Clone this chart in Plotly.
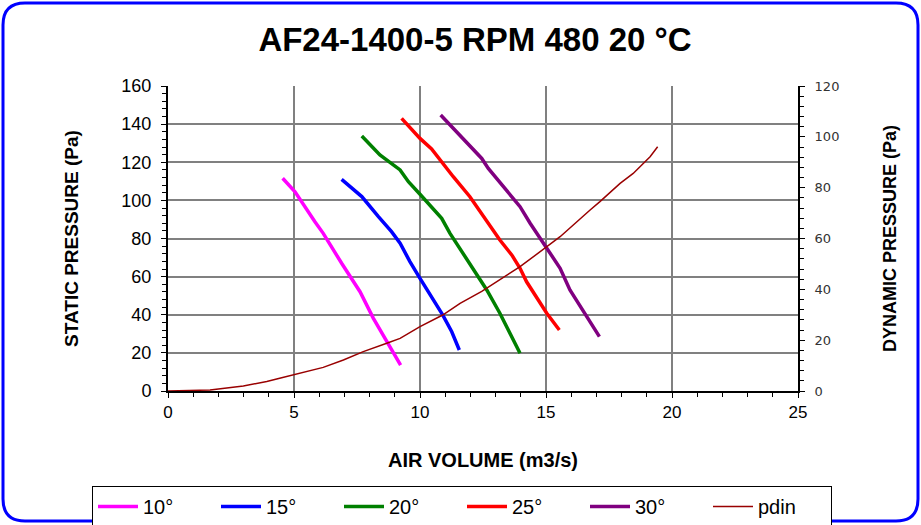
import plotly.graph_objects as go

# ---- data ----
x10 = [4.55, 5.04, 5.83, 6.16, 6.89, 7.62, 8.15, 8.74, 9.23]
y10 = [111.6, 104.5, 88.8, 82.7, 67.0, 52.1, 38.1, 25.0, 13.6]

x15 = [6.89, 7.69, 8.35, 8.87, 9.21, 9.60, 10.0, 10.46, 10.9, 11.26, 11.56]
y15 = [111.0, 102.0, 91.5, 83.6, 77.5, 67.9, 59.1, 49.5, 39.9, 31.1, 21.5]

x20 = [7.69, 8.41, 9.21, 9.54, 10.0, 10.86, 11.19, 11.98, 12.38, 12.65, 13.17, 13.97]
y20 = [133.8, 123.8, 116.0, 109.8, 103.2, 90.6, 82.7, 67.0, 59.1, 53.0, 40.8, 19.8]

x25 = [9.27, 10.0, 10.46, 10.86, 11.32, 11.98, 12.38, 13.17, 13.64, 13.97, 14.23, 15.03, 15.53]
y25 = [143.0, 132.5, 127.0, 120.0, 112.4, 101.9, 94.1, 79.2, 71.4, 64.4, 57.3, 40.8, 32.0]

x30 = [10.82, 11.59, 12.45, 12.71, 13.51, 13.97, 14.37, 14.96, 15.56, 15.95, 16.62, 17.12]
y30 = [144.8, 134.3, 122.0, 116.8, 103.7, 96.7, 88.0, 76.6, 64.4, 53.0, 39.0, 28.5]

xpd = [0.0, 1.0, 1.67, 2.99, 3.92, 4.51, 5.24, 6.16, 6.96, 7.75, 8.68, 9.21, 10.0, 10.9,
       11.59, 12.45, 13.97, 15.03, 15.56, 16.75, 17.14, 17.94, 18.46, 19.13, 19.43]
ypd = [0.0, 0.2, 0.4, 2.0, 3.7, 5.2, 7.0, 9.3, 12.2, 15.5, 18.8, 20.7, 25.3, 29.9,
       34.5, 39.2, 48.9, 56.8, 60.7, 71.2, 74.5, 81.7, 85.6, 92.2, 96.1]

names = ["10°", "15°", "20°", "25°", "30°"]
colors = ["#FF00FF", "#0000FF", "#008000", "#FF0000", "#800080"]
series_x = [x10, x15, x20, x25, x30]
series_y = [y10, y15, y20, y25, y30]

FONT = "Arial, Liberation Sans, sans-serif"

fig = go.Figure()
for nm, c, xs, ys in zip(names, colors, series_x, series_y):
    fig.add_trace(go.Scatter(x=xs, y=ys, mode="lines", name=nm,
                             line=dict(color=c, width=3.5)))
fig.add_trace(go.Scatter(x=xpd, y=ypd, mode="lines", name="pdin", yaxis="y2",
                         line=dict(color="#990000", width=1.5)))

W, H = 921, 525
ml, mr, mt, mb = 168, 123, 86, 134
pw, ph = W - ml - mr, H - mt - mb


def px(xp):
    return (xp - ml) / pw


def py(yp):
    return (H - mb - yp) / ph


# rounded blue frame around the whole chart
x0, x1, y0, y1 = px(3), px(918), py(3), py(521)
rx, ry = 22 / pw, 22 / ph
path = (f"M {x0+rx},{y0} L {x1-rx},{y0} Q {x1},{y0} {x1},{y0-ry} "
        f"L {x1},{y1+ry} Q {x1},{y1} {x1-rx},{y1} L {x0+rx},{y1} "
        f"Q {x0},{y1} {x0},{y1+ry} L {x0},{y0-ry} Q {x0},{y0} {x0+rx},{y0} Z")

fig.update_layout(
    width=W, height=H,
    margin=dict(l=ml, r=mr, t=mt, b=mb, autoexpand=False),
    paper_bgcolor="white", plot_bgcolor="white",
    font=dict(family=FONT, color="black"),
    title=dict(text="<b>AF24-1400-5 RPM 480 20 °C</b>", xref="container", x=475 / W,
               xanchor="center", y=1 - 39 / H, yanchor="middle",
               font=dict(size=33, family=FONT)),
    shapes=[dict(type="path", path=path, xref="paper", yref="paper",
                 line=dict(color="#0000FF", width=3), layer="above")],
    xaxis=dict(range=[0, 25], dtick=5, showgrid=True, gridcolor="#808080", gridwidth=2,
               showline=True, linecolor="black", linewidth=2, ticks="outside",
               ticklen=5, tickcolor="black", zeroline=False, automargin=False,
               minor=dict(dtick=1, ticks="outside", ticklen=4, tickcolor="black", showgrid=False),
               tickfont=dict(size=17, family=FONT),
               title=dict(text="<b>AIR VOLUME (m3/s)</b>", font=dict(size=20, family=FONT),
                          standoff=32)),
    yaxis=dict(range=[0, 160], dtick=20, showgrid=True, gridcolor="#808080", gridwidth=2,
               showline=True, linecolor="black", linewidth=2, ticks="outside",
               ticklen=5, tickcolor="black", zeroline=False, automargin=False,
               ticklabelstandoff=6,
               minor=dict(dtick=4, ticks="outside", ticklen=4, tickcolor="black", showgrid=False),
               tickfont=dict(size=18, family=FONT),
               title=dict(text="<b>STATIC PRESSURE (Pa)</b>", font=dict(size=19, family=FONT),
                          standoff=38)),
    yaxis2=dict(range=[0, 120], dtick=20, overlaying="y", side="right", showgrid=False,
                showline=True, linecolor="black", linewidth=2, ticks="outside",
                ticklen=5, tickcolor="black", zeroline=False, automargin=False,
                ticklabelstandoff=7,
                minor=dict(dtick=4, ticks="outside", ticklen=4, tickcolor="black", showgrid=False),
                tickfont=dict(size=13, family="DejaVu Sans", color="#333333"),
                title=dict(text="<b>DYNAMIC PRESSURE (Pa)</b>", font=dict(size=18, family=FONT),
                           standoff=45)),
    legend=dict(orientation="h", x=px(92), xanchor="left", y=py(486), yanchor="top",
                bordercolor="black", borderwidth=1, bgcolor="white",
                font=dict(size=20, family=FONT), entrywidth=68, entrywidthmode="pixels",
                itemwidth=40),
    showlegend=True,
)

fig.write_html("out.html", config={"displayModeBar": False},
               post_script="document.body.style.margin='0px';document.body.style.overflow='hidden';")
